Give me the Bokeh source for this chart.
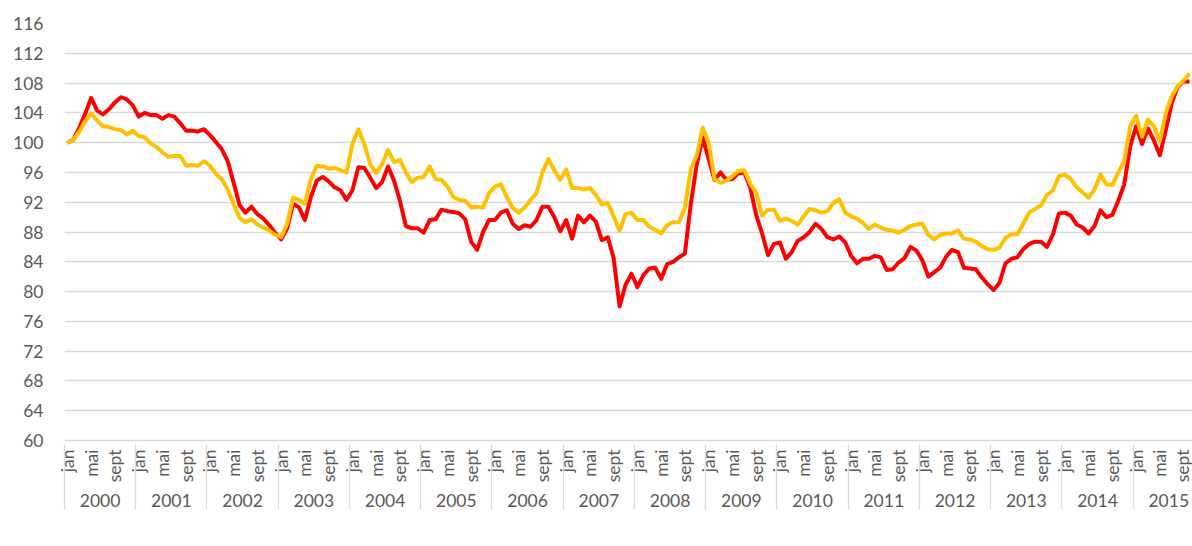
import math
from bokeh.plotting import figure
from bokeh.models import Range1d, FixedTicker, LinearAxis, Legend, LegendItem
from bokeh.embed import file_html
from bokeh.resources import INLINE

years = list(range(2000, 2016))
month_names = ["jan", "feb", "mar", "apr", "mai", "jun", "jul", "aug", "sept", "okt", "nov", "des"]
shown_months = ["jan", "mai", "sept"]
y_ticks = list(range(60, 117, 4))
series_names = ["Sjømatkursindeksen - valutavektet", "Konkurransekursindeksen"]

sjomat = [
    100.0, 100.4, 102.0, 103.9, 106.0, 104.3, 103.8, 104.5, 105.4, 106.1, 105.8, 105.0,
    103.5, 104.0, 103.7, 103.7, 103.2, 103.7, 103.5, 102.6, 101.6, 101.6, 101.5, 101.8,
    101.0, 100.1, 99.1, 97.5, 94.6, 91.6, 90.6, 91.4, 90.4, 89.8, 88.9, 87.9,
    87.0, 88.5, 91.8, 91.3, 89.6, 92.7, 94.9, 95.4, 94.8, 94.0, 93.6, 92.3,
    93.6, 96.7, 96.6, 95.3, 93.9, 94.7, 96.8, 94.9, 92.2, 88.8, 88.5, 88.5,
    87.9, 89.6, 89.7, 91.0, 90.8, 90.7, 90.5, 89.7, 86.7, 85.6, 88.0, 89.6,
    89.6, 90.6, 90.9, 89.1, 88.4, 88.9, 88.7, 89.6, 91.4, 91.4, 90.0, 88.1,
    89.6, 87.1, 90.2, 89.3, 90.2, 89.4, 86.9, 87.3, 84.5, 78.0, 80.9, 82.4,
    80.6, 82.2, 83.1, 83.2, 81.7, 83.7, 84.0, 84.6, 85.1, 91.8, 97.1, 100.7,
    97.8, 95.0, 96.0, 95.0, 95.1, 95.9, 96.0, 94.0, 90.3, 87.8, 84.9, 86.4,
    86.6, 84.4, 85.3, 86.8, 87.3, 88.0, 89.1, 88.4, 87.3, 87.0, 87.4, 86.6,
    84.8, 83.8, 84.4, 84.4, 84.8, 84.6, 82.9, 83.0, 83.9, 84.5, 86.0, 85.5,
    84.2, 82.0, 82.6, 83.2, 84.7, 85.6, 85.3, 83.2, 83.1, 83.0, 81.9, 81.0,
    80.2, 81.2, 83.8, 84.4, 84.6, 85.7, 86.4, 86.7, 86.7, 86.0, 87.7, 90.5,
    90.6, 90.2, 89.0, 88.6, 87.8, 88.8, 90.9, 90.0, 90.3, 92.2, 94.4, 99.5,
    102.2, 99.8, 101.9, 100.3, 98.3, 101.7, 105.3, 107.5, 108.2, 108.2,
]

konkurranse = [
    100.0, 100.4, 101.5, 102.9, 103.9, 103.0, 102.2, 102.1, 101.8, 101.7, 101.1, 101.6,
    100.9, 100.7, 99.9, 99.4, 98.7, 98.1, 98.2, 98.2, 96.9, 97.0, 96.9, 97.5,
    96.9, 95.8, 95.1, 93.7, 91.7, 89.9, 89.3, 89.7, 89.0, 88.6, 88.2, 87.6,
    87.3, 89.1, 92.6, 92.3, 91.8, 95.1, 96.9, 96.8, 96.5, 96.6, 96.3, 96.0,
    99.8, 101.8, 99.8, 97.1, 95.9, 97.1, 99.0, 97.4, 97.7, 96.0, 94.7, 95.3,
    95.4, 96.8, 95.1, 95.0, 94.1, 92.7, 92.3, 92.2, 91.3, 91.4, 91.3, 93.2,
    94.1, 94.4, 92.7, 91.2, 90.6, 91.3, 92.3, 93.2, 96.0, 97.8, 96.3, 95.0,
    96.4, 93.9, 93.9, 93.7, 93.9, 93.0, 91.7, 91.9, 90.1, 88.2, 90.4, 90.6,
    89.6, 89.6, 88.7, 88.3, 87.8, 88.9, 89.3, 89.3, 91.3, 96.5, 98.3, 102.0,
    100.0, 95.1, 94.6, 94.9, 95.5, 96.2, 96.3, 94.5, 93.3, 90.2, 91.0, 91.0,
    89.5, 89.8, 89.5, 89.0, 90.1, 91.1, 90.9, 90.6, 90.8, 91.9, 92.4, 90.6,
    90.1, 89.8, 89.2, 88.4, 89.0, 88.6, 88.3, 88.2, 87.9, 88.3, 88.8, 89.0,
    89.1, 87.6, 87.0, 87.6, 87.8, 87.8, 88.2, 87.1, 87.0, 86.7, 86.1, 85.7,
    85.6, 85.9, 87.2, 87.7, 87.7, 89.1, 90.6, 91.1, 91.6, 93.0, 93.6, 95.5,
    95.7, 95.1, 94.0, 93.3, 92.6, 93.7, 95.7, 94.4, 94.3, 96.0, 97.5, 102.2,
    103.6, 100.8, 103.1, 102.2, 100.2, 104.0, 106.2, 107.6, 108.3, 109.3,
]

FONT = "Lato"
FS = "17.5px"
TXT = "#595959"
GRID = "#d9d9d9"

n = len(sjomat)
x = list(range(n))

p = figure(frame_width=1128, frame_height=417, output_backend="svg", toolbar_location=None,
           x_range=Range1d(-0.5, n - 0.5), y_range=Range1d(60, 116),
           x_axis_type=None, min_border_left=64, min_border_right=0,
           min_border_top=23, min_border_bottom=0)
p.outline_line_color = None
p.background_fill_color = "white"
p.border_fill_color = "white"

# y axis and grid
p.yaxis.ticker = FixedTicker(ticks=y_ticks)
p.yaxis.axis_line_color = None
p.yaxis.major_tick_line_color = None
p.yaxis.major_tick_in = 0
p.yaxis.major_tick_out = 0
p.yaxis.minor_tick_line_color = None
p.yaxis.minor_tick_in = 0
p.yaxis.minor_tick_out = 0
p.yaxis.major_label_standoff = 21
p.yaxis.major_label_text_font = FONT
p.yaxis.major_label_text_font_size = FS
p.yaxis.major_label_text_color = TXT
p.ygrid.ticker = FixedTicker(ticks=y_ticks)
p.ygrid.grid_line_color = GRID
p.ygrid.grid_line_width = 1.3

# month axis
tick_pos = [m for m in x if month_names[m % 12] in shown_months]
month_axis = LinearAxis(
    ticker=FixedTicker(ticks=tick_pos, minor_ticks=[]),
    major_label_overrides={m: month_names[m % 12] for m in tick_pos},
    major_label_orientation=math.pi / 2,
    major_tick_in=0, major_tick_out=0, major_tick_line_color=None,
    minor_tick_in=0, minor_tick_out=0, minor_tick_line_color=None,
    axis_line_color=GRID, axis_line_width=1.3,
    major_label_standoff=9,
    major_label_text_font=FONT, major_label_text_font_size=FS, major_label_text_color=TXT,
)
p.add_layout(month_axis, "below")

# year axis, with separators between years drawn as its minor ticks
year_pos = [12 * k + 5.5 for k in range(len(years))]
bounds = [12 * k - 0.5 for k in range(len(years))]
year_axis = LinearAxis(
    ticker=FixedTicker(ticks=year_pos, minor_ticks=bounds),
    major_label_overrides={pos: str(yr) for pos, yr in zip(year_pos, years)},
    major_tick_in=0, major_tick_out=0, major_tick_line_color=None,
    minor_tick_in=41, minor_tick_out=24, minor_tick_line_color=GRID, minor_tick_line_width=1.3,
    axis_line_color=None,
    major_label_standoff=-16,
    major_label_text_font=FONT, major_label_text_font_size=FS, major_label_text_color=TXT,
)
p.add_layout(year_axis, "below")

r1 = p.line(x, sjomat, line_color="#FF0000", line_width=4, line_join="round")
r2 = p.line(x, konkurranse, line_color="#FFC000", line_width=4, line_join="round")

legend = Legend(
    items=[LegendItem(label=series_names[0], renderers=[r1]),
           LegendItem(label=series_names[1], renderers=[r2])],
    orientation="horizontal", location=(236, 14),
    glyph_width=50, glyph_height=16, label_standoff=5, spacing=50,
    padding=0, margin=0, border_line_color=None, background_fill_alpha=0,
    label_text_font=FONT, label_text_font_size="18.5px", label_text_color=TXT,
    label_height=16,
)
p.add_layout(legend, "below")

open("out.html", "w").write(file_html(p, INLINE))
